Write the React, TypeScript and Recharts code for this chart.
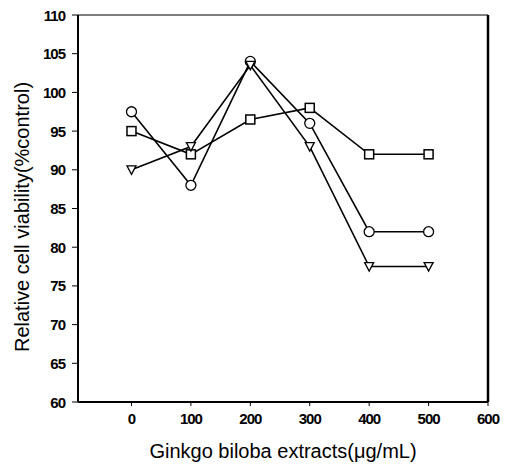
import { LineChart, Line, XAxis, YAxis, ReferenceLine } from 'recharts';

const doses = [0, 100, 200, 300, 400, 500];
const circleSeries = [97.5, 88, 104, 96, 82, 82];
const squareSeries = [95, 92, 96.5, 98, 92, 92];
const triangleSeries = [90, 93, 103.5, 93, 77.5, 77.5];
const xTicks = [0, 100, 200, 300, 400, 500, 600];
const yTicks = [60, 65, 70, 75, 80, 85, 90, 95, 100, 105, 110];

const data = doses.map((d, i) => ({
  dose: d,
  circle: circleSeries[i],
  square: squareSeries[i],
  triangle: triangleSeries[i],
}));

const FONT = '"Liberation Sans", Arial, sans-serif';

function CircleDot(props: any) {
  const { cx, cy } = props;
  if (cx == null || cy == null) return null;
  return <circle cx={cx} cy={cy} r={5} fill="#fff" stroke="#000" strokeWidth={1.3} />;
}

function SquareDot(props: any) {
  const { cx, cy } = props;
  if (cx == null || cy == null) return null;
  return <rect x={cx - 4.5} y={cy - 4.5} width={9} height={9} fill="#fff" stroke="#000" strokeWidth={1.5} />;
}

function TriangleDot(props: any) {
  const { cx, cy } = props;
  if (cx == null || cy == null) return null;
  const p = `${cx - 4.5},${cy - 4} ${cx + 4.5},${cy - 4} ${cx},${cy + 4.5}`;
  return <polygon points={p} fill="#fff" stroke="#000" strokeWidth={1.3} />;
}

const tickText = { fontSize: 15, fill: '#000', fontFamily: FONT, fontWeight: 700, letterSpacing: -1 };

function XTick(props: any) {
  const { x, y, payload } = props;
  return (
    <text x={x} y={y + 10} textAnchor="middle" dominantBaseline="central" style={tickText}>
      {payload.value}
    </text>
  );
}

function YTick(props: any) {
  const { x, y, payload } = props;
  return (
    <text x={x - 5} y={y} textAnchor="end" dominantBaseline="central" style={tickText}>
      {payload.value}
    </text>
  );
}

// y title drawn at a fixed spot next to the axis
function YTitle() {
  return (
    <text
      x={22}
      y={217}
      transform="rotate(-90, 22, 217)"
      textAnchor="middle"
      dominantBaseline="central"
      style={{ fontSize: 20, fill: '#000', fontFamily: FONT }}
    >
      Relative cell viability(%control)
    </text>
  );
}

export default function App() {
  return (
    <div style={{ position: 'absolute', left: 0, top: 0, background: '#fff' }}>
      <LineChart
        width={506}
        height={467}
        data={data}
        margin={{ top: 15, right: 18, bottom: 0, left: 0 }}
      >
        <XAxis
          dataKey="dose"
          type="number"
          domain={[-90, 600]}
          ticks={xTicks}
          allowDataOverflow
          height={65}
          tick={<XTick />}
          tickSize={4}
          axisLine={{ stroke: '#000', strokeWidth: 2 }}
          tickLine={{ stroke: '#000' }}
          label={{
            value: 'Ginkgo biloba extracts(μg/mL)',
            position: 'insideBottom',
            offset: 9,
            style: { fontSize: 20, fill: '#000', fontFamily: FONT },
          }}
        />
        <YAxis
          type="number"
          domain={[60, 110]}
          ticks={yTicks}
          interval={0}
          width={78}
          tick={<YTick />}
          tickSize={6}
          axisLine={{ stroke: '#000', strokeWidth: 2 }}
          tickLine={{ stroke: '#000' }}
          label={<YTitle />}
        />
        <ReferenceLine y={110} stroke="#000" strokeWidth={1} />
        <ReferenceLine x={600} stroke="#000" strokeWidth={2.5} />
        <Line
          dataKey="circle"
          stroke="#000"
          strokeWidth={1.6}
          dot={<CircleDot />}
          isAnimationActive={false}
        />
        <Line
          dataKey="square"
          stroke="#000"
          strokeWidth={1.6}
          dot={<SquareDot />}
          isAnimationActive={false}
        />
        <Line
          dataKey="triangle"
          stroke="#000"
          strokeWidth={1.6}
          dot={<TriangleDot />}
          isAnimationActive={false}
        />
      </LineChart>
    </div>
  );
}
